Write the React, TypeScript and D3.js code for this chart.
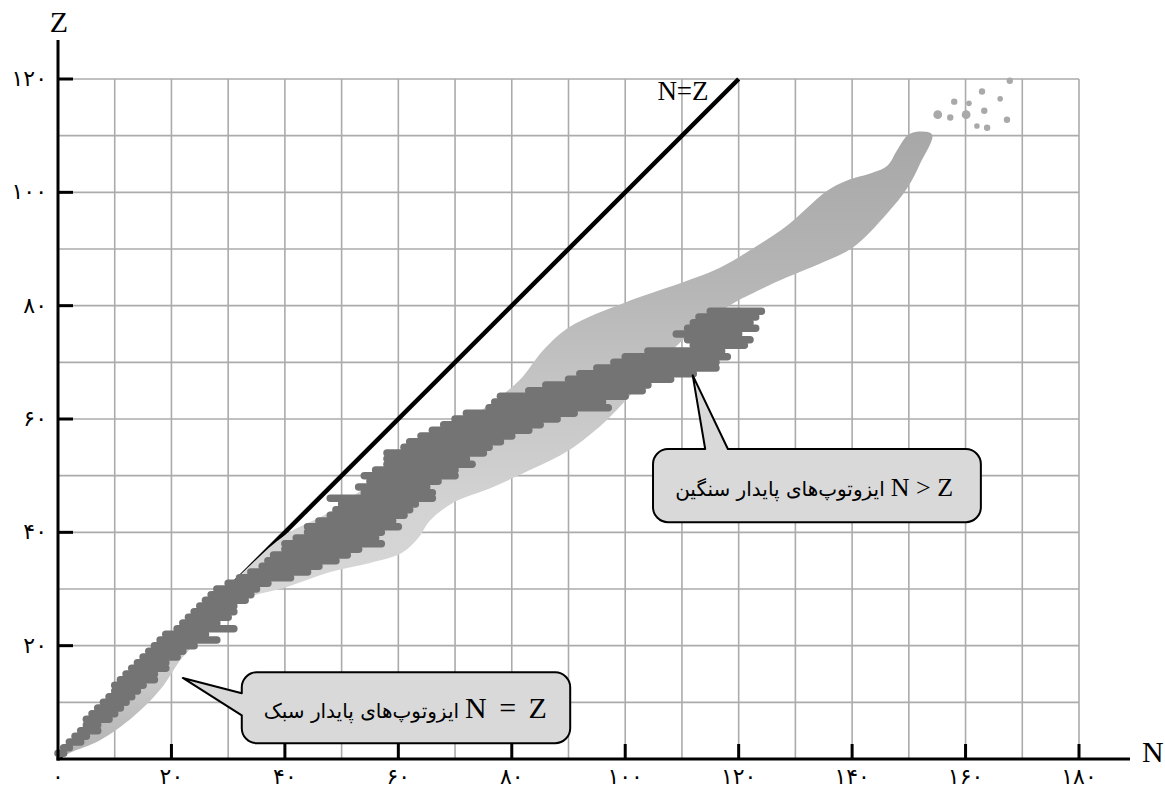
import React, { useEffect, useRef } from 'react'
import * as d3 from 'd3'

const W = 1165
const H = 791

// axis ticks (N along x, Z along y)
const nTicks = [0, 20, 40, 60, 80, 100, 120, 140, 160, 180]
const zTicks = [20, 40, 60, 80, 100, 120]
const nGrid = d3.range(10, 181, 10)
const zGrid = d3.range(10, 121, 10)

// stable isotopes: [Z, lowest N, highest N]
const stableRows = [
  [1, 0, 1], [2, 1, 2], [3, 2, 4], [4, 3, 5], [5, 4, 7], [6, 5, 7], [7, 5, 9], [8, 6, 10],
  [9, 7, 11], [10, 8, 12], [11, 9, 13], [12, 10, 14], [13, 10, 15], [14, 11, 17], [15, 12, 17],
  [16, 13, 19], [17, 14, 19], [18, 15, 21], [19, 16, 22], [20, 17, 24], [21, 18, 28], [22, 19, 26],
  [23, 21, 31], [24, 22, 28], [25, 23, 30], [26, 24, 31], [27, 25, 31], [28, 26, 33], [29, 27, 34],
  [30, 28, 35], [31, 30, 37], [32, 32, 41], [33, 34, 44], [34, 36, 46], [35, 37, 49], [36, 38, 51],
  [37, 40, 53], [38, 40, 57], [39, 42, 56], [40, 44, 57], [41, 44, 60], [42, 46, 59], [43, 48, 61],
  [44, 49, 62], [45, 50, 63], [46, 48, 66], [47, 54, 66], [48, 53, 65], [49, 55, 67], [50, 54, 70],
  [51, 56, 70], [52, 58, 73], [53, 58, 72], [54, 58, 75], [55, 61, 76], [56, 62, 78], [57, 64, 80],
  [58, 66, 83], [59, 68, 85], [60, 70, 88], [61, 72, 91], [62, 76, 97], [63, 77, 96], [64, 78, 100],
  [65, 83, 103], [66, 86, 104], [67, 90, 108], [68, 92, 112], [69, 95, 116], [70, 98, 116],
  [71, 100, 118], [72, 104, 117], [73, 112, 121], [74, 111, 122], [75, 109, 120], [76, 111, 123],
  [77, 112, 122], [78, 113, 123], [79, 115, 124]
]

// stability band outline [N, Z]: upper edge from origin, then lower edge back
const bandUpper = [
  [0, 0], [10, 10.5], [20, 20.5], [30, 30.4], [34, 34.3], [40, 39.5], [47.6, 43.4], [54.3, 48],
  [61, 52.7], [67.9, 57.5], [74.6, 61.5], [81.3, 66.8], [85.5, 72.1], [90.1, 76.2], [100.1, 80.6],
  [110.9, 84.4], [116.7, 86.7], [122.5, 90.1], [128.5, 94.1], [132.1, 97.3], [135.6, 100.3],
  [139.1, 102.1], [143.7, 103.5], [146.2, 104.7], [147.9, 107.4], [149.7, 110], [151.4, 110.7],
  [154.1, 110.2]
]
const bandLower = [
  [152, 105.1], [149.7, 100.7], [146.2, 96.3], [140.2, 90.3], [134.3, 87.4], [128.5, 85],
  [122.5, 82.2], [119, 80.4], [113.2, 76.5], [106.1, 70], [100.1, 63.3], [96.1, 59.2], [90.1, 54.5],
  [83.2, 51], [76.2, 47.8], [69.8, 45.3], [65.6, 42.1], [63.5, 39], [60.5, 36.3], [55, 34.6],
  [48, 33], [40.2, 30.3], [33.3, 28.4], [30.3, 26.3], [26.8, 22.7], [22, 18], [18, 12.2],
  [13.2, 7.4], [7.4, 3.3], [2.1, 1.1], [0, 0]
]

// superheavy nuclei: [N, Z, size class]
const heavyDots = [
  [155.1, 113.7, 'l'], [157.3, 113.2, 'm'], [158, 116, 'm'], [160.1, 113.7, 'l'], [160.6, 115.7, 's'],
  [162.9, 117.8, 'm'], [163.3, 114.4, 'm'], [162, 111.7, 's'], [163.8, 111.4, 'm'], [166.1, 116.5, 's'],
  [167.3, 112.8, 'm'], [167.8, 119.7, 'm']
]

const lightLabel = 'ایزوتوپ\u200cهای پایدار سبک'
const heavyLabel = 'ایزوتوپ\u200cهای پایدار سنگین'

const faDigits = '۰۱۲۳۴۵۶۷۸۹'
const toFa = (v: number) => String(v).replace(/\d/g, d => faDigits[+d])

const serif = '"Liberation Serif", "Times New Roman", serif'
const faFont = '"DejaVu Sans", sans-serif'

// rounded box with a pointer on the left or top edge
function calloutPath(x0, y0, x1, y1, r, side, a, b, tx, ty) {
  let p = `M${x0 + r},${y0}`
  if (side === 'top') p += `L${a},${y0}L${tx},${ty}L${b},${y0}`
  p += `L${x1 - r},${y0}A${r},${r} 0 0 1 ${x1},${y0 + r}`
  p += `L${x1},${y1 - r}A${r},${r} 0 0 1 ${x1 - r},${y1}`
  p += `L${x0 + r},${y1}A${r},${r} 0 0 1 ${x0},${y1 - r}`
  if (side === 'left') p += `L${x0},${b}L${tx},${ty}L${x0},${a}`
  p += `L${x0},${y0 + r}A${r},${r} 0 0 1 ${x0 + r},${y0}Z`
  return p
}

const App = () => {
  const ref = useRef(null)

  useEffect(() => {
    const svg = d3.select(ref.current)
    svg.selectAll('*').remove()

    const x = d3.scaleLinear().domain([0, 180]).range([58, 1079])
    const y = d3.scaleLinear().domain([0, 120]).range([759, 79])

    // grid
    const grid = svg.append('g').attr('stroke', '#ababab').attr('stroke-width', 1.6)
    grid.selectAll('line.v').data(nGrid).enter().append('line')
      .attr('x1', d => x(d)).attr('x2', d => x(d)).attr('y1', y(0)).attr('y2', y(120))
    grid.selectAll('line.h').data(zGrid).enter().append('line')
      .attr('x1', x(0)).attr('x2', x(180)).attr('y1', d => y(d)).attr('y2', d => y(d))

    // N = Z line (sits under the band)
    svg.append('line')
      .attr('x1', x(0)).attr('y1', y(0)).attr('x2', x(120)).attr('y2', y(120))
      .attr('stroke', '#000').attr('stroke-width', 4.5)

    // band of stability
    const grad = svg.append('defs').append('linearGradient')
      .attr('id', 'bandGrad').attr('x1', 0).attr('y1', 0).attr('x2', 0).attr('y2', 1)
    const stops = [[0, '#a7a7a7'], [0.25, '#b6b6b6'], [0.42, '#c6c6c6'], [0.6, '#d3d3d3'],
      [0.76, '#d7d7d7'], [0.88, '#c8c8c8'], [1, '#b2b2b2']]
    stops.forEach(s => grad.append('stop').attr('offset', s[0]).attr('stop-color', s[1]))

    const bandLine = d3.line()
      .x(d => x(d[0])).y(d => y(d[1]))
      .curve(d3.curveCatmullRom.alpha(0.5))
    svg.append('path')
      .attr('d', bandLine(bandUpper.concat(bandLower)) + 'Z')
      .attr('fill', 'url(#bandGrad)')

    // stable isotopes
    svg.append('g').selectAll('line').data(stableRows).enter().append('line')
      .attr('x1', d => x(d[1])).attr('x2', d => x(d[2]))
      .attr('y1', d => y(d[0])).attr('y2', d => y(d[0]))
      .attr('stroke', '#747474').attr('stroke-width', 7.5).attr('stroke-linecap', 'round')

    // superheavy
    const rad = { l: 4.4, m: 3.2, s: 2.8 }
    svg.append('g').selectAll('circle').data(heavyDots).enter().append('circle')
      .attr('cx', d => x(d[0])).attr('cy', d => y(d[1])).attr('r', d => rad[d[2]])
      .attr('fill', '#a9a9a9')

    // axes
    const ax = svg.append('g').attr('stroke', '#000').attr('stroke-width', 3)
    ax.append('line').attr('x1', x(0)).attr('x2', x(0)).attr('y1', y(0) + 1.5).attr('y2', 40)
    ax.append('line').attr('x1', x(0) - 1.5).attr('x2', 1130).attr('y1', y(0)).attr('y2', y(0))
    ax.selectAll('line.tx').data(nTicks.slice(1)).enter().append('line')
      .attr('x1', d => x(d)).attr('x2', d => x(d)).attr('y1', y(0)).attr('y2', y(0) - 15)
    ax.selectAll('line.ty').data(zTicks).enter().append('line')
      .attr('x1', x(0)).attr('x2', x(0) + 15).attr('y1', d => y(d)).attr('y2', d => y(d))

    svg.append('g').selectAll('text').data(nTicks).enter().append('text')
      .attr('x', d => x(d)).attr('y', y(0) + 25)
      .attr('text-anchor', 'middle').attr('font-family', faFont).attr('font-size', 22)
      .text(d => toFa(d))
    svg.append('g').selectAll('text').data(zTicks).enter().append('text')
      .attr('x', x(0) - 11).attr('y', d => y(d) + 7)
      .attr('text-anchor', 'end').attr('font-family', faFont).attr('font-size', 22)
      .text(d => toFa(d))

    svg.append('text').attr('x', 59).attr('y', 32).attr('text-anchor', 'middle')
      .attr('font-family', serif).attr('font-size', 30).text('Z')
    svg.append('text').attr('x', 1142).attr('y', 762)
      .attr('font-family', serif).attr('font-size', 30).text('N')

    svg.append('text').attr('x', x(114.7)).attr('y', y(116.3)).attr('text-anchor', 'end')
      .attr('font-family', serif).attr('font-size', 27).text('N=Z')

    // callouts: formula sits at the right, persian label to its left
    const boxes = [
      { n0: 32.4, z0: 15.3, n1: 90.3, z1: 2.8, side: 'left', a: y(11.6), b: y(7.7), tip: [22, 14.3],
        formula: 'N = Z', fSize: 30, spacing: 5, fRight: 86.2, label: lightLabel, baseZ: 7.2 },
      { n0: 104.9, z0: 54.7, n1: 162.7, z1: 41.8, side: 'top', a: x(114.1), b: x(118.1), tip: [111.9, 67.7],
        formula: 'N > Z', fSize: 26, spacing: 0, fRight: 157.8, label: heavyLabel, baseZ: 46.5 }
    ]
    boxes.forEach(c => {
      svg.append('path')
        .attr('d', calloutPath(x(c.n0), y(c.z0), x(c.n1), y(c.z1), 15, c.side, c.a, c.b, x(c.tip[0]), y(c.tip[1])))
        .attr('fill', '#d9d9d9').attr('stroke', '#000').attr('stroke-width', 2)
        .attr('stroke-linejoin', 'round')
      const f = svg.append('text').attr('x', x(c.fRight)).attr('y', y(c.baseZ)).attr('text-anchor', 'end')
        .attr('font-family', serif).attr('font-size', c.fSize).attr('word-spacing', c.spacing)
        .text(c.formula)
      const fw = f.node().getBBox().width
      svg.append('text').attr('x', x(c.fRight) - fw - 6).attr('y', y(c.baseZ)).attr('text-anchor', 'end')
        .attr('font-family', faFont).attr('font-size', 20).text(c.label)
    })
  }, [])

  return (
    <svg ref={ref} width={W} height={H}
      style={{ position: 'absolute', left: 0, top: 0, background: '#fff' }} />
  )
}

export default App
